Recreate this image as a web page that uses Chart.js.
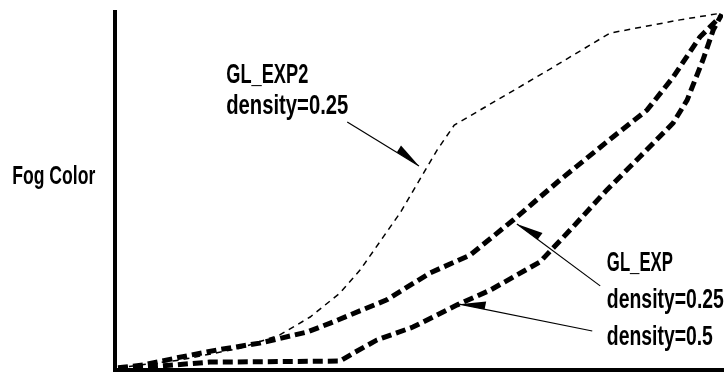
<!DOCTYPE html>
<html>
<head>
<meta charset="utf-8">
<script src="https://cdn.jsdelivr.net/npm/chart.js@4.4.0/dist/chart.umd.min.js"></script>
<style>
  html, body { margin: 0; padding: 0; background: #fff; }
  #wrap { position: relative; width: 724px; height: 373px; }
</style>
</head>
<body>
<div id="wrap"><canvas id="fog"></canvas></div>
<script>
// distance (0-100) -> fog colour (0-100)

// GL_EXP2, density=0.25 (thin dashes)
const exp2X = [0.5, 10.7, 20.6, 27.1, 32.1, 37.0, 40.3, 46.9, 53.0, 55.8, 70.7, 81.4, 92.9, 99.8];
const exp2Y = [0.6, 2.8, 6.1, 9.8, 14.8, 21.5, 27.9, 43.9, 61.5, 68.4, 83.2, 94.1, 97.8, 99.7];

// GL_EXP, density=0.25
const expQuarterX = [0.5, 4.6, 10.2, 16.8, 23.8, 31.6, 35.4, 44.7, 51.8, 58.4, 65.5, 73.2, 81.9, 87.5, 91.8, 96.2, 99.5];
const expQuarterY = [0.6, 1.4, 3.4, 5.6, 7.5, 10.6, 13.1, 19.6, 27.1, 32.1, 41.9, 53.1, 65.1, 72.6, 81.8, 93.0, 98.6];

// GL_EXP, density=0.5
const expHalfX = [0.5, 7.4, 15.6, 37.0, 39.5, 43.1, 49.0, 56.3, 61.7, 69.9, 75.3, 80.9, 86.3, 91.8, 94.1, 96.7, 98.4, 99.8];
const expHalfY = [0.3, 1.1, 2.2, 2.5, 5.0, 8.4, 12.0, 18.2, 22.3, 30.2, 39.9, 50.3, 59.5, 69.0, 75.4, 86.6, 95.0, 99.4];

function pts(xs, ys) {
  return xs.map((x, i) => ({x: x, y: ys[i]}));
}

// text labels and pointer arrows, placed in data units
const labels = [
  {text: 'Fog Color',    x: -16.9, y: 52.0, size: 25, width: 83},
  {text: 'GL_EXP2',      x: 18.3,  y: 80.2, size: 28, width: 82},
  {text: 'density=0.25', x: 18.3,  y: 71.5, size: 28, width: 122},
  {text: 'GL_EXP',       x: 80.9,  y: 27.7, size: 28, width: 66},
  {text: 'density=0.25', x: 80.9,  y: 17.3, size: 28, width: 117},
  {text: 'density=0.5',  x: 80.9,  y: 7.0,  size: 28, width: 106}
];
const arrows = [
  {from: [38.2, 69.3], to: [50.0, 57.0], side: 1},
  {from: [79.8, 23.5], to: [66.1, 40.8], side: -1},
  {from: [78.5, 10.9], to: [56.6, 18.4], side: -1}
];

const annotate = {
  id: 'annotate',
  afterDatasetsDraw(chart) {
    const ctx = chart.ctx;
    const xs = chart.scales.x, ys = chart.scales.y;
    ctx.save();
    ctx.fillStyle = '#000';
    ctx.textAlign = 'left';
    ctx.textBaseline = 'alphabetic';
    labels.forEach(l => {
      ctx.save();
      ctx.font = 'bold ' + l.size + 'px "Liberation Sans", Arial, sans-serif';
      const w = ctx.measureText(l.text).width;
      ctx.translate(xs.getPixelForValue(l.x), ys.getPixelForValue(l.y));
      ctx.scale(l.width / w, 1);
      ctx.fillText(l.text, 0, 0);
      ctx.restore();
    });
    ctx.strokeStyle = '#000';
    ctx.lineWidth = 1.2;
    arrows.forEach(a => {
      const x1 = xs.getPixelForValue(a.from[0]), y1 = ys.getPixelForValue(a.from[1]);
      const x2 = xs.getPixelForValue(a.to[0]), y2 = ys.getPixelForValue(a.to[1]);
      ctx.beginPath();
      ctx.moveTo(x1, y1);
      ctx.lineTo(x2, y2);
      ctx.stroke();
      const len = Math.hypot(x1 - x2, y1 - y2);
      const ux = (x1 - x2) / len, uy = (y1 - y2) / len;
      const px = -uy * a.side, py = ux * a.side;
      ctx.beginPath();
      ctx.moveTo(x2, y2);
      ctx.lineTo(x2 + ux * 26, y2 + uy * 26);
      ctx.lineTo(x2 + ux * 26 + px * 8, y2 + uy * 26 + py * 8);
      ctx.closePath();
      ctx.fill();
    });
    ctx.restore();
  }
};

new Chart(document.getElementById('fog'), {
  type: 'line',
  data: {
    datasets: [
      {
        label: 'GL_EXP2 density=0.25',
        data: pts(exp2X, exp2Y),
        borderColor: '#000',
        borderWidth: 1.5,
        borderDash: [6, 5]
      },
      {
        label: 'GL_EXP density=0.25',
        data: pts(expQuarterX, expQuarterY),
        borderColor: '#000',
        borderWidth: 5,
        borderDash: [10, 5]
      },
      {
        label: 'GL_EXP density=0.5',
        data: pts(expHalfX, expHalfY),
        borderColor: '#000',
        borderWidth: 5,
        borderDash: [10, 5]
      }
    ]
  },
  options: {
    responsive: true,
    maintainAspectRatio: false,
    animation: false,
    layout: {padding: {left: 115, top: 12, right: 1, bottom: 3}},
    elements: {
      point: {radius: 0},
      line: {tension: 0, fill: false, borderCapStyle: 'butt'}
    },
    plugins: {
      legend: {display: false},
      tooltip: {enabled: false}
    },
    scales: {
      x: {
        type: 'linear',
        min: 0,
        max: 100,
        grid: {display: false, drawTicks: false},
        border: {display: true, width: 4, color: '#000'},
        ticks: {display: false}
      },
      y: {
        min: 0,
        max: 100,
        grid: {display: false, drawTicks: false},
        border: {display: true, width: 4, color: '#000'},
        ticks: {display: false}
      }
    }
  },
  plugins: [annotate]
});
</script>
</body>
</html>
